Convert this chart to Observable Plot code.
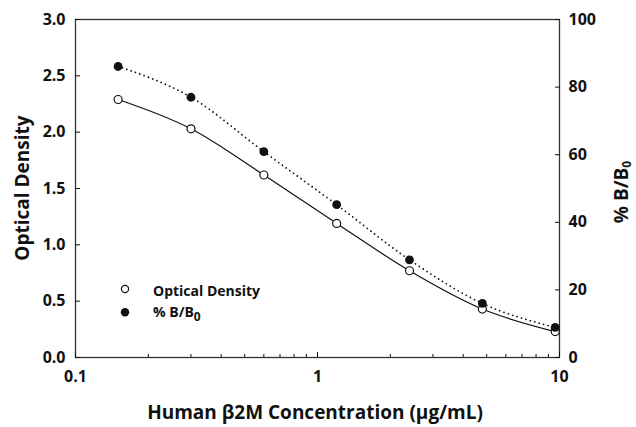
<!DOCTYPE html>
<html><head><meta charset="utf-8">
<script src="https://cdn.jsdelivr.net/npm/d3@7"></script>
<script src="https://cdn.jsdelivr.net/npm/@observablehq/plot@0.6"></script>
<style>body{margin:0;background:#fff} svg{display:block}</style>
</head><body><div id="chart"></div>
<script>
// --- data ---
const concentrations = [0.15, 0.3, 0.6, 1.2, 2.4, 4.8, 9.6];     // µg/mL
const opticalDensity = [2.29, 2.03, 1.62, 1.19, 0.77, 0.43, 0.23];
const percentBB0     = [86.1, 77.0, 60.9, 45.2, 28.9, 16.0, 8.9];
const odTicks  = [0, 0.5, 1, 1.5, 2, 2.5, 3];
const pctTicks = [0, 20, 40, 60, 80, 100];
const xMajorTicks = [0.1, 1, 10];
const xMinorTicks = [0.2, 0.3, 0.4, 0.5, 0.6, 0.7, 0.8, 0.9, 2, 3, 4, 5, 6, 7, 8, 9];
const odMax = 3, pctMax = 100;
const k = odMax / pctMax; // maps % B/B0 onto the optical density scale

const data = concentrations.map((c, i) => ({
  conc: c, od: opticalDensity[i], pct: percentBB0[i], pctScaled: percentBB0[i] * k
}));

const font = "'Open Sans', sans-serif";
const ink = "#111";
const tickFont = {fontSize: 16, fontWeight: 700};

const chart = Plot.plot({
  width: 636, height: 427,
  marginLeft: 75, marginRight: 77, marginTop: 19, marginBottom: 70,
  style: {fontFamily: font, fontWeight: 700, fontSize: "16px", color: ink, background: "#fff", overflow: "visible"},
  x: {type: "log", domain: [0.1, 10]},
  y: {domain: [0, odMax]},
  marks: [
    Plot.frame({stroke: "#333", strokeWidth: 1.3}),
    Plot.axisY({anchor: "left", ticks: odTicks, tickFormat: d => d.toFixed(1), tickSize: -5, tickPadding: 15, label: null, ...tickFont}),
    Plot.axisY({anchor: "right", ticks: pctTicks.map(v => v * k), tickFormat: d => String(Math.round(d / k)), tickSize: -5, tickPadding: 14, label: null, ...tickFont}),
    Plot.axisX({anchor: "bottom", ticks: xMajorTicks, tickFormat: d => String(d), tickSize: -5, tickPadding: 18, label: null, ...tickFont}),
    Plot.axisX({anchor: "bottom", ticks: xMinorTicks, tickFormat: () => "", tickSize: -3, label: null}),
    Plot.line(data, {x: "conc", y: "od", curve: "monotone-x", stroke: ink, strokeWidth: 1.2}),
    Plot.line(data, {x: "conc", y: "pctScaled", curve: "monotone-x", stroke: ink, strokeWidth: 1.8, strokeDasharray: "0 4.6", strokeLinecap: "round"}),
    Plot.dot(data, {x: "conc", y: "od", r: 4, fill: "white", stroke: ink, strokeWidth: 1.2}),
    Plot.dot(data, {x: "conc", y: "pctScaled", r: 4.4, fill: ink, stroke: "none"})
  ]
});

const svg = d3.select(chart);
// make sure tick labels use the intended size and weight
svg.selectAll("g[aria-label$='tick label'] text")
  .style("font-size", "16px").style("font-weight", "700").style("font-family", font);

// axis titles
svg.append("text")
  .attr("transform", "translate(29,188) rotate(-90)")
  .attr("text-anchor", "middle").attr("font-size", 19).attr("font-weight", 700).attr("fill", ink)
  .text("Optical Density");
const rt = svg.append("text")
  .attr("transform", "translate(628,192) rotate(-90)")
  .attr("text-anchor", "middle").attr("font-size", 19).attr("font-weight", 700).attr("fill", ink);
rt.append("tspan").text("% B/B");
rt.append("tspan").attr("dy", 3).attr("font-size", 12).text("0");
svg.append("text")
  .attr("x", 315).attr("y", 419)
  .attr("text-anchor", "middle").attr("font-size", 19).attr("font-weight", 700).attr("fill", ink)
  .text("Human β2M Concentration (μg/mL)");

// legend
const lg = svg.append("g").attr("font-size", 14).attr("font-weight", 700).attr("fill", ink);
lg.append("circle").attr("cx", 125).attr("cy", 289).attr("r", 3.6).attr("fill", "white").attr("stroke", ink).attr("stroke-width", 1.2);
lg.append("circle").attr("cx", 125).attr("cy", 312.3).attr("r", 4.2).attr("fill", ink);
lg.append("text").attr("x", 153).attr("y", 295.5).attr("text-anchor", "start").text("Optical Density");
const l2 = lg.append("text").attr("x", 153).attr("y", 316.7).attr("text-anchor", "start");
l2.append("tspan").text("% B/B");
l2.append("tspan").attr("dy", 4).attr("font-size", 12).text("0");

document.getElementById("chart").appendChild(chart);
</script>
</body></html>
